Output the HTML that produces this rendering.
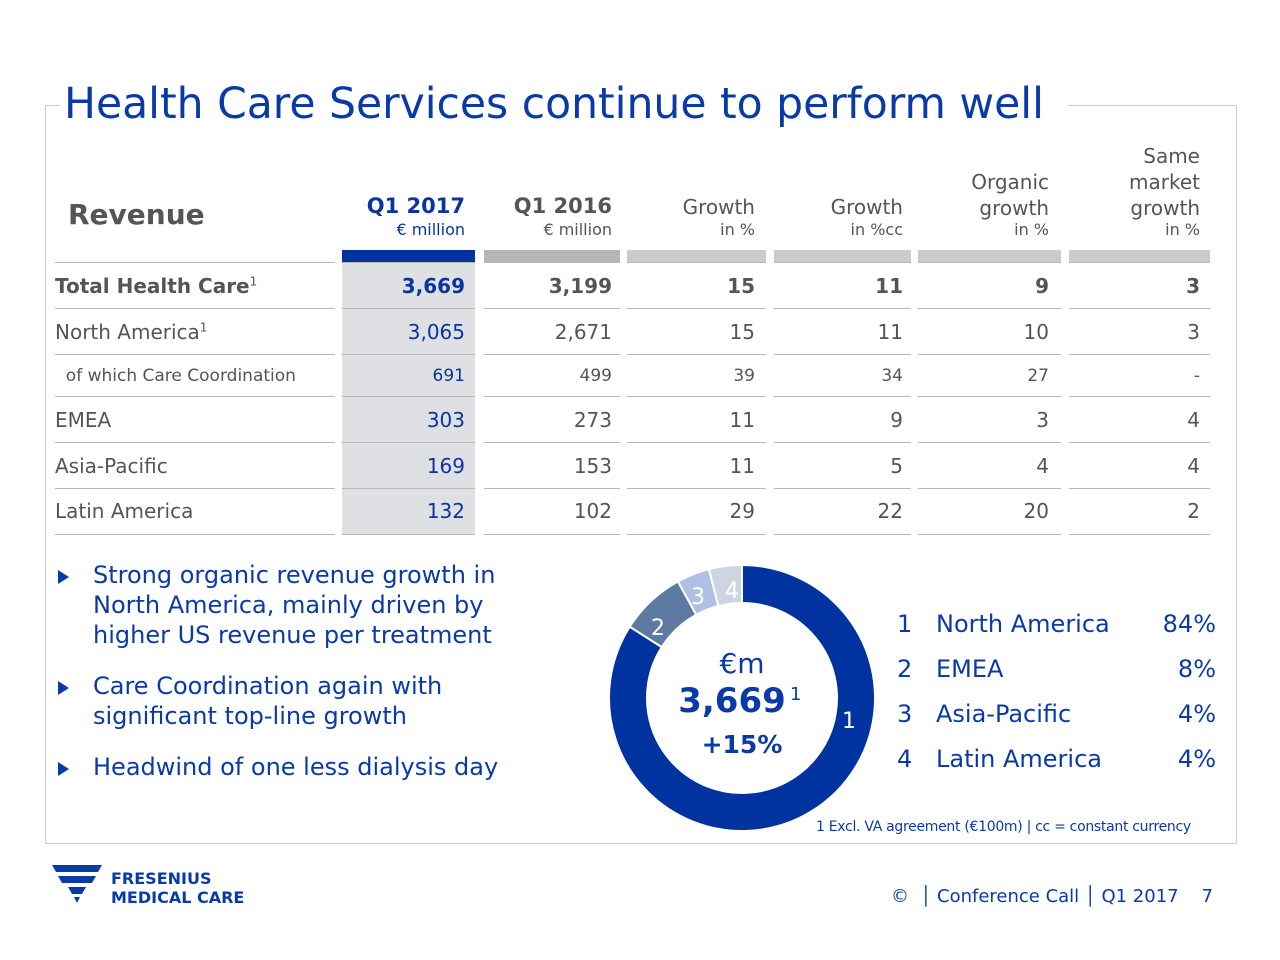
<!DOCTYPE html>
<html><head><meta charset="utf-8"><style>
body{margin:0;width:1280px;height:960px;background:#fff;position:relative;overflow:hidden;font-family:"DejaVu Sans","Liberation Sans",sans-serif;}
.a{position:absolute;white-space:nowrap}
.r{text-align:right}
.g{color:#555}
.b{color:#0a35a0}
.line{position:absolute;height:1px;background:#b8b8b8}
</style></head><body>
<div class="a" style="left:45px;top:105px;width:1px;height:738px;background:#c8ccd0"></div>
<div class="a" style="left:1236px;top:105px;width:1px;height:738px;background:#c8ccd0"></div>
<div class="a" style="left:45px;top:843px;width:1192px;height:1px;background:#c8ccd0"></div>
<div class="a" style="left:45px;top:105px;width:15px;height:1px;background:#c8ccd0"></div>
<div class="a" style="left:1068px;top:105px;width:169px;height:1px;background:#c8ccd0"></div>
<div class="a b" style="left:64px;top:80px;font-size:42.5px;color:#0a3aa8">Health Care Services continue to perform well</div>

<div class="a g" style="left:68px;top:198px;font-size:28px;font-weight:bold">Revenue</div>
<div class="a r b" style="left:300px;width:165px;top:194px;font-size:21px;font-weight:bold">Q1 2017</div>
<div class="a r b" style="left:300px;width:165px;top:220px;font-size:16px">€ million</div>
<div class="a r g" style="left:450px;width:162px;top:194px;font-size:21px;font-weight:bold">Q1 2016</div>
<div class="a r g" style="left:450px;width:162px;top:220px;font-size:16px">€ million</div>
<div class="a r g" style="left:600px;width:155px;top:195px;font-size:20px;line-height:24px">Growth</div>
<div class="a r g" style="left:600px;width:155px;top:220px;font-size:16px">in %</div>
<div class="a r g" style="left:750px;width:153px;top:195px;font-size:20px;line-height:24px">Growth</div>
<div class="a r g" style="left:750px;width:153px;top:220px;font-size:16px">in %cc</div>
<div class="a r g" style="left:900px;width:149px;top:169px;font-size:20px;line-height:26px">Organic<br>growth</div>
<div class="a r g" style="left:900px;width:149px;top:220px;font-size:16px">in %</div>
<div class="a r g" style="left:1050px;width:150px;top:143px;font-size:20px;line-height:26px">Same<br>market<br>growth</div>
<div class="a r g" style="left:1050px;width:150px;top:220px;font-size:16px">in %</div>

<div class="a" style="left:342px;top:250px;width:133px;height:12px;background:#0033a0"></div>
<div class="a" style="left:484px;top:250px;width:136px;height:12px;background:#b4b6ba"></div>
<div class="a" style="left:627px;top:250px;width:139px;height:12px;background:#cbcbcb"></div>
<div class="a" style="left:774px;top:250px;width:137px;height:12px;background:#cbcbcb"></div>
<div class="a" style="left:918px;top:250px;width:143px;height:12px;background:#cbcbcb"></div>
<div class="a" style="left:1069px;top:250px;width:141px;height:12px;background:#cbcbcb"></div>
<div class="a" style="left:342px;top:262px;width:133px;height:272px;background:#dfe0e3"></div>

<div id="t"></div>
<script>
var rows=[["Total Health Care<sup style='font-size:12px;font-weight:normal'>1</sup>","3,669","3,199","15","11","9","3",287,1,20],
["North America<sup style='font-size:12px'>1</sup>","3,065","2,671","15","11","10","3",333,0,20],
["&nbsp;&nbsp;of which Care Coordination","691","499","39","34","27","-",377,0,17],
["EMEA","303","273","11","9","3","4",421,0,20],
["Asia-Pacific","169","153","11","5","4","4",467,0,20],
["Latin America","132","102","29","22","20","2",512,0,20]];
var rs=[465,612,755,903,1049,1200],segs=[[55,335],[342,475],[484,620],[627,766],[774,911],[918,1061],[1069,1210]];
var h="";
segs.forEach(function(s){h+="<div class='line' style='left:"+s[0]+"px;top:262px;width:"+(s[1]-s[0])+"px'></div>";});
rows.forEach(function(r,i){var y=r[7],fs=r[9],fw=r[8]?"bold":"normal";
h+="<div class='a g' style='left:55px;top:"+(y-fs*0.65)+"px;font-size:"+fs+"px;font-weight:"+fw+"'>"+r[0]+"</div>";
for(var c=1;c<7;c++){h+="<div class='a r "+(c==1?"b":"g")+"' style='left:"+(rs[c-1]-140)+"px;width:140px;top:"+(y-fs*0.65)+"px;font-size:"+fs+"px;font-weight:"+fw+"'>"+r[c]+"</div>";}
var ly=[308,354,396,442,488,534][i];
segs.forEach(function(s){h+="<div class='line' style='left:"+s[0]+"px;top:"+ly+"px;width:"+(s[1]-s[0])+"px'></div>";});
});
document.getElementById("t").innerHTML=h;
</script>

<div class="a b" style="left:93px;top:560px;font-size:24px;line-height:30px;color:#0a3aa8">Strong organic revenue growth in<br>North America, mainly driven by<br>higher US revenue per treatment</div>
<div class="a b" style="left:93px;top:671px;font-size:24px;line-height:30px;color:#0a3aa8">Care Coordination again with<br>significant top-line growth</div>
<div class="a b" style="left:93px;top:752px;font-size:24px;line-height:30px;color:#0a3aa8">Headwind of one less dialysis day</div>
<div class="a" style="left:58px;top:570px;width:0;height:0;border-left:11px solid #0a3aa8;border-top:7px solid transparent;border-bottom:7px solid transparent"></div>
<div class="a" style="left:58px;top:681px;width:0;height:0;border-left:11px solid #0a3aa8;border-top:7px solid transparent;border-bottom:7px solid transparent"></div>
<div class="a" style="left:58px;top:762px;width:0;height:0;border-left:11px solid #0a3aa8;border-top:7px solid transparent;border-bottom:7px solid transparent"></div>

<svg class="a" style="left:0;top:0" width="1280" height="960">
<g id="d"></g>
<text x="742" y="673" font-size="28" fill="#0a3aa8" text-anchor="middle" font-family="DejaVu Sans">€m</text>
<text x="732" y="712" font-size="34" font-weight="bold" fill="#0a3aa8" text-anchor="middle" font-family="DejaVu Sans">3,669</text>
<text x="790" y="700" font-size="18" fill="#0a3aa8" font-family="DejaVu Sans">1</text>
<text x="742" y="753" font-size="25" font-weight="bold" fill="#0a3aa8" text-anchor="middle" font-family="DejaVu Sans">+15%</text>
<text x="849" y="728" font-size="22" fill="#fff" text-anchor="middle" font-family="DejaVu Sans">1</text>
<text x="658" y="635" font-size="22" fill="#fff" text-anchor="middle" font-family="DejaVu Sans">2</text>
<text x="698" y="604" font-size="22" fill="#fff" text-anchor="middle" font-family="DejaVu Sans">3</text>
<text x="732" y="598" font-size="22" fill="#fff" text-anchor="middle" font-family="DejaVu Sans">4</text>
</svg>
<script>
var cx=742,cy=698,R=133,r=95,fr=[[0.84,"#0033a0"],[0.08,"#5f7aa2"],[0.04,"#b0c0e4"],[0.04,"#cdd4e2"]],a=0,s="";
function p(t,rad){var an=t*2*Math.PI;return [cx+rad*Math.sin(an),cy-rad*Math.cos(an)];}
fr.forEach(function(f){var b=a+f[0],l=f[0]>0.5?1:0,p1=p(a,R),p2=p(b,R),p3=p(b,r),p4=p(a,r);
s+="<path d='M"+p1+" A"+R+" "+R+" 0 "+l+" 1 "+p2+" L"+p3+" A"+r+" "+r+" 0 "+l+" 0 "+p4+"Z' fill='"+f[1]+"' stroke='#fff' stroke-width='2'/>";a=b;});
document.getElementById("d").innerHTML=s;
</script>

<div class="a b" style="left:897px;top:602px;font-size:24px;line-height:45px;color:#0a3aa8">1</div>
<div class="a b" style="left:897px;top:647px;font-size:24px;line-height:45px;color:#0a3aa8">2</div>
<div class="a b" style="left:897px;top:692px;font-size:24px;line-height:45px;color:#0a3aa8">3</div>
<div class="a b" style="left:897px;top:737px;font-size:24px;line-height:45px;color:#0a3aa8">4</div>
<div class="a b" style="left:936px;top:602px;font-size:24px;line-height:45px;color:#0a3aa8">North America<br>EMEA<br>Asia-Pacific<br>Latin America</div>
<div class="a r b" style="left:1100px;width:116px;top:602px;font-size:24px;line-height:45px;color:#0a3aa8">84%<br>8%<br>4%<br>4%</div>
<div class="a b" style="left:816px;top:819px;font-size:14px;color:#0a3aa8;letter-spacing:-0.3px">1 Excl. VA agreement (€100m) | cc = constant currency</div>

<svg class="a" style="left:50px;top:862px" width="60" height="44">
<path d="M2 3 L52 3 L48 10 L6 10Z" fill="#0a3aa8"/>
<path d="M8 14 L46 14 L42 21 L12 21Z" fill="#0a3aa8"/>
<path d="M18 25 L36 25 L32 32 L22 32Z" fill="#0a3aa8"/>
<path d="M24 35 L30 35 L27 41Z" fill="#0a3aa8"/>
</svg>
<div class="a b" style="left:111px;top:869px;font-size:16px;font-weight:bold;line-height:19px;color:#0a3aa8">FRESENIUS<br>MEDICAL CARE</div>
<div class="a b" style="left:891px;top:886px;font-size:18px;color:#0a3aa8">©&nbsp;&nbsp;│&nbsp;Conference Call&nbsp;│&nbsp;Q1 2017&nbsp;&nbsp;&nbsp;&nbsp;7</div>
</body></html>
